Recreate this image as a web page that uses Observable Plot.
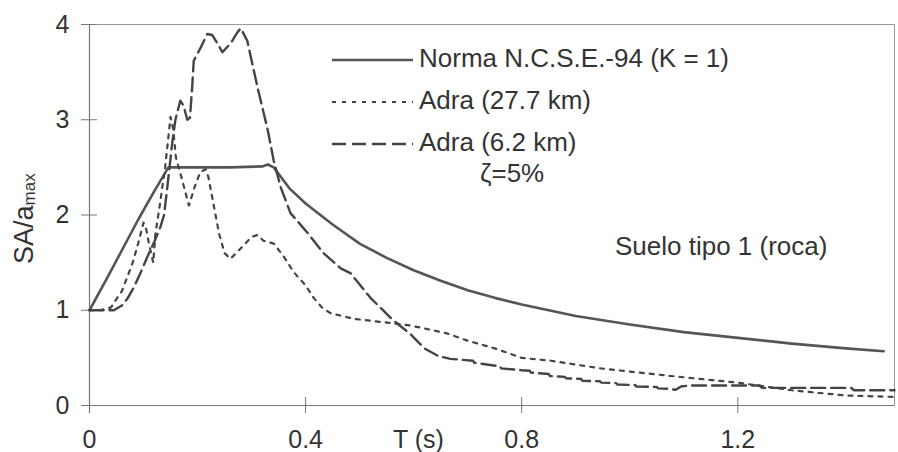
<!DOCTYPE html>
<html><head><meta charset="utf-8">
<script src="https://cdn.jsdelivr.net/npm/d3@7"></script>
<script src="https://cdn.jsdelivr.net/npm/@observablehq/plot@0.6"></script>
<style>
html,body{margin:0;padding:0;background:#fff;}
#chart svg{display:block;}
</style></head><body><div id="chart"></div>
<script>
// ---- data ----
const xTickValues = [0, 0.4, 0.8, 1.2];
const yTickValues = [0, 1, 2, 3, 4];
const seriesNames = ["Norma N.C.S.E.-94 (K = 1)", "Adra (27.7 km)", "Adra (6.2 km)"];
const dampingNote = "ζ=5%";
const soilNote = "Suelo tipo 1 (roca)";
const xLabel = "T (s)";

// [T (s), SA/amax]
const normaPoints = [
  [0, 1], [0.03, 1.31], [0.06, 1.63], [0.09, 1.95], [0.12, 2.25], [0.146, 2.5],
  [0.2, 2.5], [0.26, 2.5], [0.32, 2.51], [0.33, 2.53], [0.341, 2.5],
  [0.37, 2.28], [0.40, 2.12], [0.45, 1.9], [0.5, 1.7], [0.55, 1.55], [0.6, 1.42],
  [0.65, 1.31], [0.7, 1.21], [0.75, 1.13], [0.8, 1.06], [0.9, 0.94], [1.0, 0.85],
  [1.1, 0.77], [1.2, 0.71], [1.3, 0.65], [1.4, 0.6], [1.47, 0.57]
];
const adra277Points = [
  [0, 1], [0.02, 1.0], [0.04, 1.03], [0.05, 1.12], [0.06, 1.2], [0.07, 1.35],
  [0.08, 1.5], [0.09, 1.7], [0.1, 1.92], [0.105, 1.85], [0.11, 1.7], [0.118, 1.5],
  [0.122, 1.8], [0.13, 2.1], [0.14, 2.5], [0.15, 3.03], [0.155, 2.9], [0.16, 2.6],
  [0.17, 2.4], [0.184, 2.1], [0.195, 2.3], [0.205, 2.45], [0.215, 2.48], [0.22, 2.4],
  [0.23, 2.1], [0.24, 1.8], [0.25, 1.6], [0.261, 1.54], [0.28, 1.65], [0.3, 1.77],
  [0.311, 1.79], [0.322, 1.73], [0.341, 1.7], [0.36, 1.56], [0.378, 1.4], [0.4, 1.26],
  [0.415, 1.13], [0.43, 1.03], [0.446, 0.97], [0.489, 0.91], [0.551, 0.87],
  [0.594, 0.84], [0.66, 0.76], [0.7, 0.68], [0.75, 0.6], [0.8, 0.5], [0.854, 0.47],
  [0.946, 0.39], [1.01, 0.35], [1.076, 0.31], [1.2, 0.24], [1.3, 0.16], [1.4, 0.105],
  [1.49, 0.09]
];
const adra62Points = [
  [0, 1], [0.02, 1], [0.045, 1.0], [0.06, 1.05], [0.07, 1.12], [0.082, 1.24],
  [0.095, 1.4], [0.107, 1.56], [0.12, 1.72], [0.131, 1.87], [0.138, 2.0], [0.144, 2.29],
  [0.153, 2.75], [0.159, 3.0], [0.168, 3.2], [0.174, 3.15], [0.181, 3.0], [0.186, 3.02],
  [0.19, 3.34], [0.193, 3.62], [0.206, 3.76], [0.218, 3.9], [0.227, 3.89], [0.237, 3.8],
  [0.246, 3.71], [0.261, 3.8], [0.274, 3.92], [0.28, 3.96], [0.292, 3.83], [0.311, 3.34],
  [0.33, 2.89], [0.341, 2.57], [0.354, 2.29], [0.372, 2.02], [0.404, 1.81], [0.433, 1.6],
  [0.465, 1.44], [0.483, 1.39], [0.52, 1.13], [0.563, 0.89], [0.594, 0.75], [0.62, 0.6],
  [0.645, 0.52], [0.668, 0.49], [0.71, 0.47], [0.712, 0.45], [0.76, 0.41], [0.762, 0.39],
  [0.80, 0.37], [0.815, 0.365], [0.817, 0.345], [0.85, 0.33], [0.852, 0.31], [0.88, 0.3],
  [0.882, 0.285], [0.91, 0.28], [0.912, 0.26], [0.945, 0.255], [0.947, 0.24],
  [0.975, 0.235], [0.977, 0.22], [1.01, 0.215], [1.012, 0.2], [1.05, 0.195], [1.052, 0.18],
  [1.07, 0.175], [1.085, 0.165], [1.095, 0.2], [1.11, 0.21], [1.24, 0.21], [1.245, 0.185],
  [1.41, 0.185], [1.415, 0.16], [1.49, 0.16]
];

// ---- styles ----
const FONT = "'Liberation Sans', Arial, sans-serif";
const INK = "#333";
const styles = [
  {stroke: "#555", width: 2.6, dash: null},
  {stroke: "#444", width: 2.2, dash: "4,6"},
  {stroke: "#444", width: 2.4, dash: "14,6"}
];
const series = [normaPoints, adra277Points, adra62Points];

const chart = Plot.plot({
  width: 898,
  height: 452,
  marginLeft: 89,
  marginRight: 4,
  marginTop: 24,
  marginBottom: 47,
  x: {domain: [0, 1.49], label: null},
  y: {domain: [0, 4], label: null},
  style: {fontFamily: FONT, fontSize: "25px", color: INK, background: "#fff", overflow: "visible"},
  marks: [
    Plot.frame({stroke: "#999", strokeWidth: 1}),
    Plot.ruleY([0], {stroke: "#777", strokeWidth: 1.2, insetLeft: -8}),
    Plot.ruleX([0], {stroke: "#777", strokeWidth: 1.2, insetBottom: -8}),
    Plot.axisX(xTickValues, {tickSize: 16, dy: -8, fill: "none", stroke: "#777", label: null}),
    Plot.axisX(xTickValues, {tickSize: 0, tickPadding: 25, stroke: "none", fill: INK, fontSize: 25,
      tickFormat: d => String(d), label: null}),
    Plot.axisY(yTickValues, {tickSize: 16, dx: 8, fill: "none", stroke: "#777", label: null}),
    Plot.axisY(yTickValues, {tickSize: 0, tickPadding: 20, stroke: "none", fill: INK, fontSize: 25,
      tickFormat: d => String(d), label: null}),
    ...series.map((pts, i) => Plot.line(pts, {
      x: d => d[0], y: d => d[1],
      stroke: styles[i].stroke, strokeWidth: styles[i].width,
      strokeDasharray: styles[i].dash, strokeLinejoin: "round", curve: "linear"
    }))
  ]
});
document.getElementById("chart").append(chart);

// ---- legend and labels (real SVG text) ----
const svg = d3.select(chart);
const g = svg.append("g").attr("font-family", FONT).attr("fill", INK)
  .attr("font-size", 26).attr("text-anchor", "start");
const legendRows = [{ly: 60, ty: 67}, {ly: 102, ty: 109}, {ly: 144, ty: 151}];
legendRows.forEach((r, i) => {
  g.append("line").attr("x1", 332).attr("x2", 413).attr("y1", r.ly).attr("y2", r.ly)
    .attr("stroke", styles[i].stroke).attr("stroke-width", styles[i].width)
    .attr("stroke-dasharray", styles[i].dash);
  g.append("text").attr("x", 419).attr("y", r.ty).text(seriesNames[i]);
});
g.append("text").attr("x", 480).attr("y", 182).text(dampingNote);
g.append("text").attr("x", 615).attr("y", 255).text(soilNote);
g.append("text").attr("x", 393).attr("y", 448).attr("font-size", 25).text(xLabel);

const yl = g.append("text").attr("transform", "translate(33,264) rotate(-90)").attr("font-size", 27);
yl.append("tspan").text("SA/a");
yl.append("tspan").attr("font-size", 17).attr("dy", 2).text("max");
</script>
</body></html>
